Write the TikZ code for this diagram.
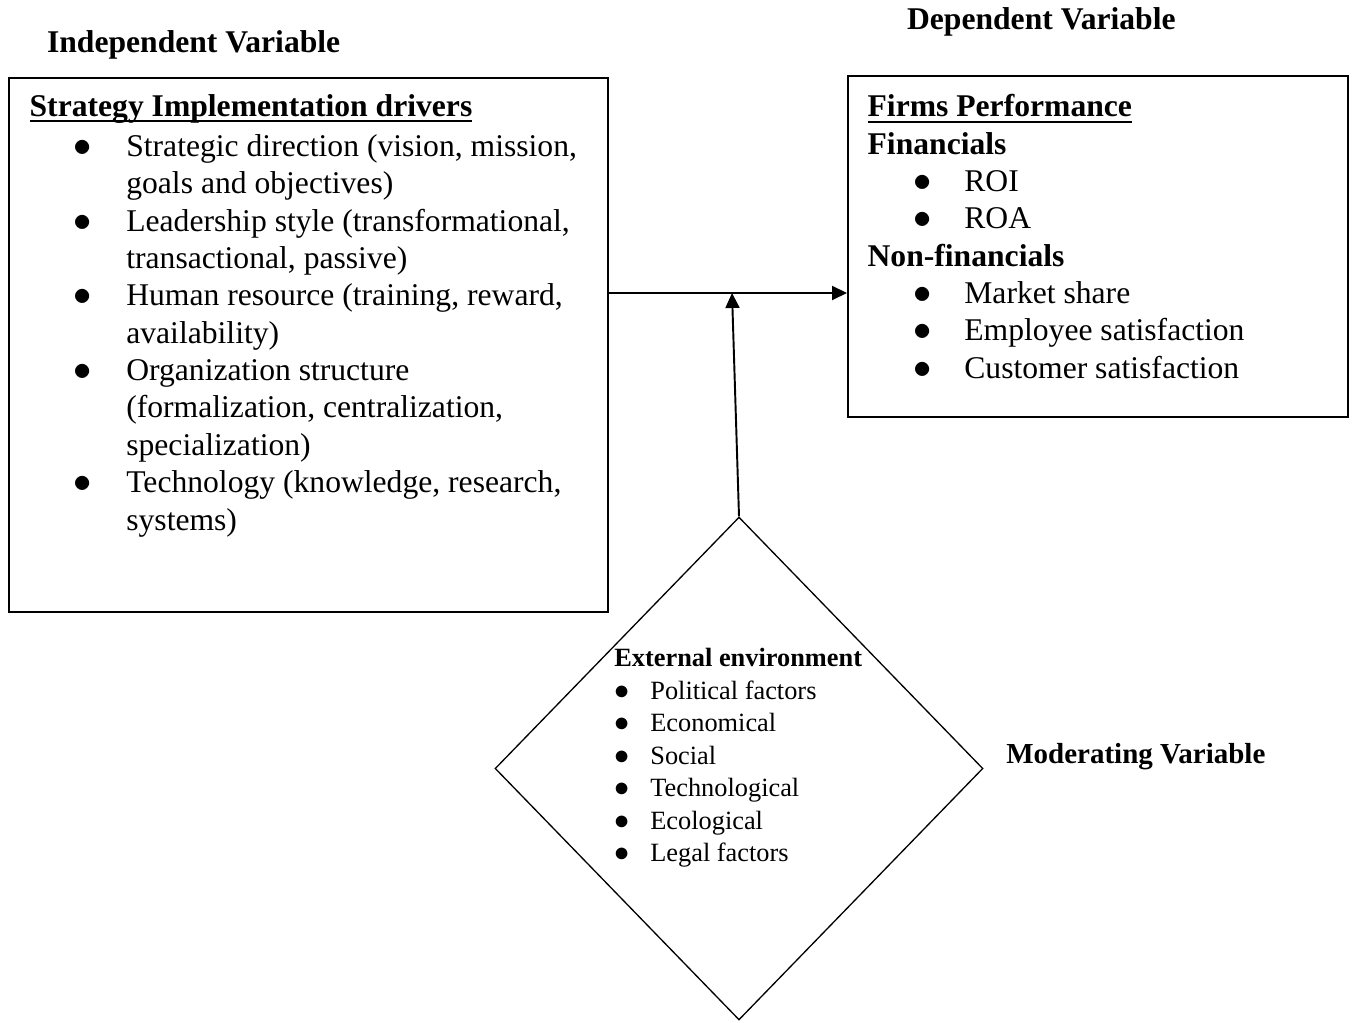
\documentclass[tikz,border=0pt]{standalone}
\usepackage{fontspec}
\setmainfont{Liberation Serif}
\usetikzlibrary{shapes.geometric,arrows.meta,positioning}

\newcommand{\ulhead}[1]{\setbox0\hbox{\textbf{#1}}\rlap{\rule[-0.12cm]{\wd0}{0.04cm}}\box0}
\newcommand{\bul}[2]{\hspace*{#1}\makebox[#2][l]{\scalebox{1.2}{$\bullet$}}}

\begin{document}
\begin{tikzpicture}[x=0.02cm, y=-0.02cm,
    varbox/.style={draw, line width=1.1pt, anchor=north west, inner sep=0pt},
    title/.style={font=\fontsize{18}{21.25}\selectfont\bfseries, anchor=base west, inner sep=0pt},
    body/.style={font=\fontsize{18}{21.25}\selectfont, align=left, anchor=base west, inner sep=0pt},
    small/.style={font=\fontsize{15}{18.5}\selectfont, align=left, anchor=base west, inner sep=0pt},
    flow/.style={line width=1.1pt, -{Triangle[length=0.3cm, width=0.28cm]}}]

\useasboundingbox (0,0) rectangle (1355,1023);

% variable titles
\node[title] (ivtitle) at (46.7,52.7) {Independent Variable};
\node[title] (dvtitle) at (906.7,30) {Dependent Variable};
\node[title, font=\fontsize{16.5}{20}\selectfont\bfseries] (mvtitle) at (1006,763.3) {Moderating Variable};

% boxes and moderator
\node[varbox, minimum width=11.98cm, minimum height=10.68cm] (drivers) at (8,77) {};
\node[varbox, minimum width=10cm, minimum height=6.82cm] (perf) at (847,75) {};
\node[draw, diamond, line width=0.75pt, minimum width=9.76cm, minimum height=10.06cm, inner sep=0pt] (env) at (739,768.5) {};

% independent variable (anchored on its last line)
\node[body] (driverstext) at (29.3,530) {\ulhead{Strategy Implementation drivers}\\[0.066cm]
  \bul{0.882cm}{1.052cm}Strategic direction (vision, mission,\\
  \hspace*{1.934cm}goals and objectives)\\
  \bul{0.882cm}{1.052cm}Leadership style (transformational,\\
  \hspace*{1.934cm}transactional, passive)\\
  \bul{0.882cm}{1.052cm}Human resource (training, reward,\\
  \hspace*{1.934cm}availability)\\
  \bul{0.882cm}{1.052cm}Organization structure\\
  \hspace*{1.934cm}(formalization, centralization,\\
  \hspace*{1.934cm}specialization)\\
  \bul{0.882cm}{1.052cm}Technology (knowledge, research,\\
  \hspace*{1.934cm}systems)};

% dependent variable
\node[body] (perftext) at (867.3,378.3) {\ulhead{Firms Performance}\\
  \textbf{Financials}\\
  \bul{0.916cm}{1.018cm}ROI\\
  \bul{0.916cm}{1.018cm}ROA\\
  \textbf{Non-financials}\\
  \bul{0.916cm}{1.018cm}Market share\\
  \bul{0.916cm}{1.018cm}Employee satisfaction\\
  \bul{0.916cm}{1.018cm}Customer satisfaction};

% moderating variable
\node[small] (envtext) at (614,861.7) {\textbf{External environment}\\
  \bul{0cm}{0.72cm}Political factors\\
  \bul{0cm}{0.72cm}Economical\\
  \bul{0cm}{0.72cm}Social\\
  \bul{0cm}{0.72cm}Technological\\
  \bul{0cm}{0.72cm}Ecological\\
  \bul{0cm}{0.72cm}Legal factors};

% links
\coordinate (mid) at (732,293);
\draw[flow] (drivers.east |- mid) -- (perf.west |- mid);
\draw[flow] (env.north) -- (mid);

\end{tikzpicture}
\end{document}
